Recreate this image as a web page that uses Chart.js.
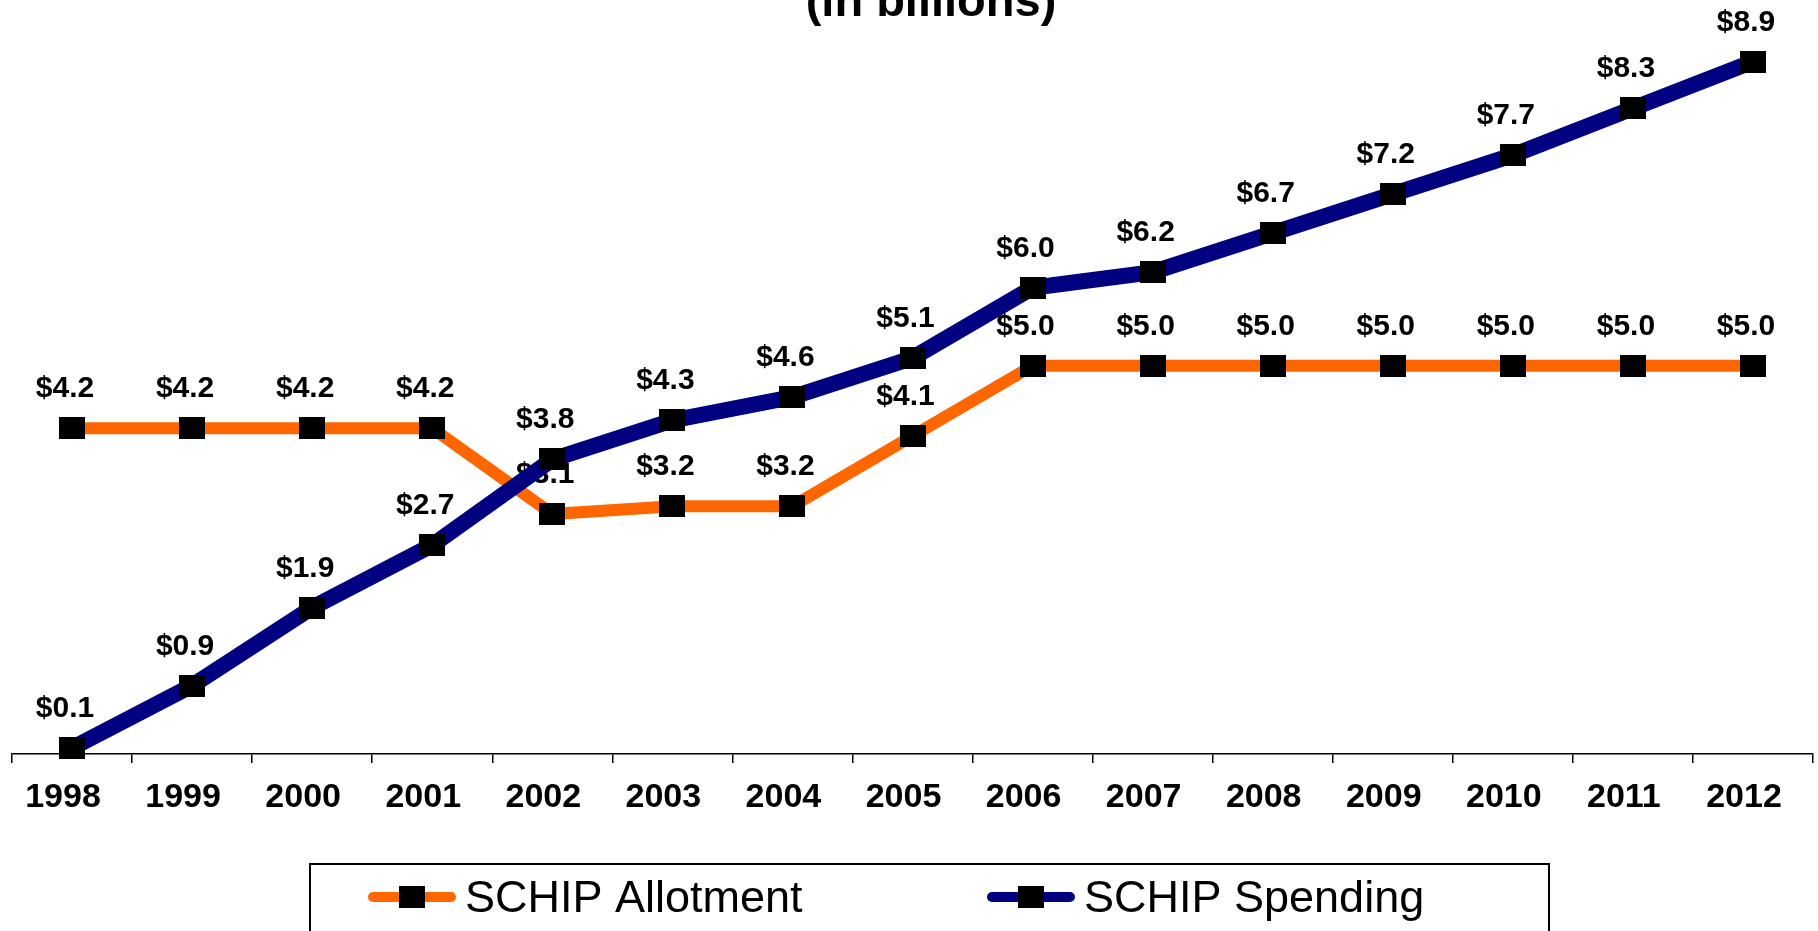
<!DOCTYPE html>
<html>
<head>
<meta charset="utf-8">
<script src="https://cdn.jsdelivr.net/npm/chart.js@4/dist/chart.umd.min.js"></script>
<style>
html,body{margin:0;padding:0;background:#fff;overflow:hidden}
#wrap{width:1818px;height:931px;position:relative;background:#fff}
canvas{display:block}
</style>
</head>
<body>
<div id="wrap"><canvas id="c" width="1818" height="931"></canvas></div>
<script>
const years = ['1998','1999','2000','2001','2002','2003','2004','2005','2006','2007','2008','2009','2010','2011','2012'];
const allotment = [4.2,4.2,4.2,4.2,3.1,3.2,3.2,4.1,5.0,5.0,5.0,5.0,5.0,5.0,5.0];
const spending = [0.1,0.9,1.9,2.7,3.8,4.3,4.6,5.1,6.0,6.2,6.7,7.2,7.7,8.3,8.9];
const seriesNames = ['SCHIP Allotment','SCHIP Spending'];
const seriesColors = ['#FF6600','#000080'];
const titleText = '(in billions)';

const FAMILY = '"Liberation Sans", Arial, Helvetica, sans-serif';

function makeMarker(){
  const c = document.createElement('canvas');
  c.width = 26; c.height = 22;
  const g = c.getContext('2d');
  g.fillStyle = '#000';
  g.fillRect(0,0,26,22);
  return c;
}
const marker = makeMarker();

const labelPlugin = {
  id: 'valueLabels',
  afterDatasetDraw(chart, args){
    const ctx = chart.ctx;
    const ds = chart.data.datasets[args.index];
    ctx.save();
    ctx.font = 'bold 30px ' + FAMILY;
    ctx.fillStyle = '#000';
    ctx.textAlign = 'center';
    ctx.textBaseline = 'alphabetic';
    args.meta.data.forEach((pt,i)=>{
      ctx.fillText('$' + ds.data[i].toFixed(1), pt.x - 7, pt.y - 31);
    });
    ctx.restore();
  }
};

const decorPlugin = {
  id: 'decor',
  afterDraw(chart){
    const ctx = chart.ctx;
    ctx.save();
    // title (partially cut off at top)
    ctx.font = 'bold 47px ' + FAMILY;
    ctx.fillStyle = '#000';
    ctx.textAlign = 'center';
    ctx.textBaseline = 'alphabetic';
    ctx.fillText(titleText, 931, 16);
    // legend box
    ctx.strokeStyle = '#000';
    ctx.lineWidth = 2;
    ctx.strokeRect(310, 864, 1239, 120);
    const items = [
      {lx1:368, lx2:456, tx:465},
      {lx1:987, lx2:1075, tx:1084}
    ];
    items.forEach((it,i)=>{
      const y = 897;
      ctx.strokeStyle = seriesColors[i];
      ctx.lineWidth = 10;
      ctx.lineCap = 'round';
      ctx.beginPath();
      ctx.moveTo(it.lx1 + 5, y);
      ctx.lineTo(it.lx2 - 5, y);
      ctx.stroke();
      const cx = (it.lx1 + it.lx2) / 2;
      ctx.fillStyle = '#000';
      ctx.fillRect(cx - 13, y - 11, 26, 22);
      ctx.font = '45px ' + FAMILY;
      ctx.textAlign = 'left';
      ctx.fillText(seriesNames[i], it.tx, 912);
    });
    ctx.restore();
  }
};

new Chart(document.getElementById('c'), {
  type: 'line',
  data: {
    labels: years,
    datasets: [
      {
        label: seriesNames[0],
        data: allotment,
        borderColor: seriesColors[0],
        backgroundColor: seriesColors[0],
        borderWidth: 12,
        pointStyle: marker,
        pointRadius: 11,
        tension: 0,
        fill: false,
        order: 2,
        clip: false
      },
      {
        label: seriesNames[1],
        data: spending,
        borderColor: seriesColors[1],
        backgroundColor: seriesColors[1],
        borderWidth: 16,
        pointStyle: marker,
        pointRadius: 11,
        tension: 0,
        fill: false,
        order: 1,
        clip: false
      }
    ]
  },
  options: {
    responsive: false,
    animation: false,
    events: [],
    devicePixelRatio: 1,
    layout: { autoPadding: false, padding: { left: 12, right: 5, top: 0, bottom: 0 } },
    plugins: {
      legend: { display: false },
      title: { display: false },
      tooltip: { enabled: false }
    },
    scales: {
      x: {
        type: 'category',
        offset: true,
        grid: {
          display: true,
          drawOnChartArea: false,
          drawTicks: true,
          tickLength: 9,
          color: '#000',
          lineWidth: 1.5,
          offset: true
        },
        border: { display: true, color: '#000', width: 1.5 },
        ticks: {
          color: '#000',
          font: { family: FAMILY, size: 34, weight: 'bold' },
          padding: 14,
          labelOffset: -9,
          maxRotation: 0,
          autoSkip: false
        },
        afterFit(scale){ scale.height = 177; }
      },
      y: {
        display: false,
        min: 0.023,
        max: 9.69
      }
    }
  },
  plugins: [labelPlugin, decorPlugin]
});
</script>
</body>
</html>
